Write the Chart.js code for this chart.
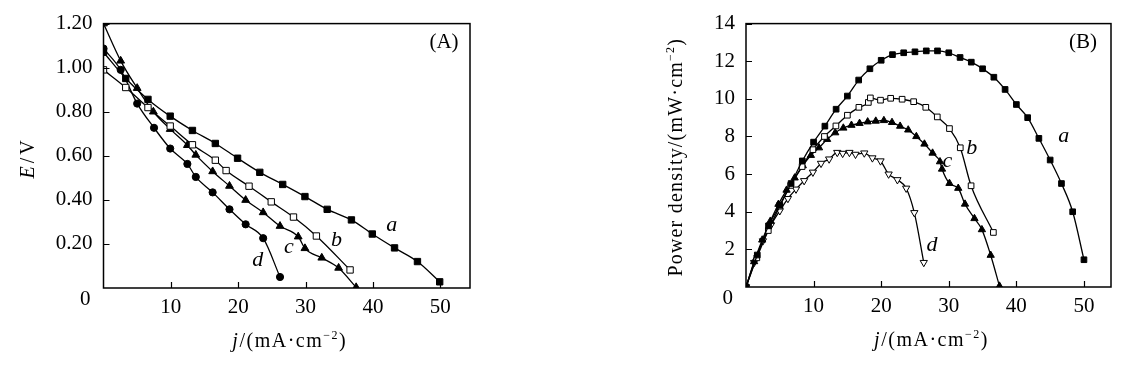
<!DOCTYPE html>
<html>
<head>
<meta charset="utf-8">
<script src="https://cdn.jsdelivr.net/npm/chart.js@4.4.1/dist/chart.umd.min.js"></script>
<style>
  html, body { margin: 0; padding: 0; background: #fff; }
  #wrap { position: relative; width: 1130px; height: 366px; overflow: hidden; }
  canvas { position: absolute; top: 0; }
  #chartA { left: 0; }
  #chartB { left: 600px; }
</style>
</head>
<body>
<div id="wrap">
  <canvas id="chartA" width="480" height="366"></canvas>
  <canvas id="chartB" width="530" height="366"></canvas>
</div>
<script>
'use strict';

// --- PANEL A: cell voltage E (V) vs current density j (mA/cm2) ---
const jA_a = [0, 3.3, 6.6, 9.9, 13.2, 16.6, 19.9, 23.2, 26.6, 29.9, 33.2, 36.8, 39.9, 43.2, 46.6, 49.9];
const EA_a = [1.07, 0.951, 0.856, 0.78, 0.715, 0.656, 0.589, 0.525, 0.47, 0.415, 0.357, 0.309, 0.245, 0.182, 0.12, 0.028];
const jA_b = [0, 3.3, 6.6, 9.9, 13.2, 16.6, 18.2, 21.6, 24.9, 28.2, 31.6, 36.6];
const EA_b = [0.99, 0.91, 0.819, 0.735, 0.65, 0.58, 0.533, 0.462, 0.391, 0.322, 0.236, 0.082];
const jA_c = [0, 2.55, 5.0, 7.4, 9.9, 12.45, 13.7, 16.2, 18.7, 21.1, 23.7, 26.2, 28.9, 29.9, 32.4, 34.9, 37.5];
const EA_c = [1.2, 1.031, 0.907, 0.8, 0.721, 0.648, 0.604, 0.529, 0.463, 0.399, 0.343, 0.281, 0.233, 0.18, 0.137, 0.091, 0.003];
const jA_d = [0, 2.55, 5.0, 7.5, 9.9, 12.45, 13.7, 16.2, 18.7, 21.1, 23.7, 26.2];
const EA_d = [1.087, 0.99, 0.837, 0.727, 0.633, 0.563, 0.504, 0.434, 0.357, 0.289, 0.226, 0.05];

// --- PANEL B: power density (mW/cm2) vs j ---
const jB_a = [0, 1.67, 3.33, 5.0, 6.67, 8.33, 10.0, 11.67, 13.33, 15.0, 16.67, 18.33, 20.0, 21.67, 23.33, 25.0,
              26.67, 28.33, 30.0, 31.67, 33.33, 35.0, 36.67, 38.33, 40.0, 41.67, 43.33, 45.0, 46.67, 48.33, 50.0];
const PB_a = [0, 1.7, 3.25, 4.35, 5.5, 6.7, 7.7, 8.55, 9.45, 10.15, 11.0, 11.6, 12.05, 12.35, 12.45, 12.5,
              12.55, 12.55, 12.45, 12.2, 11.95, 11.6, 11.15, 10.5, 9.7, 9.0, 7.9, 6.75, 5.5, 4.0, 1.45];
const jB_b = [0, 1.6, 3.3, 5.0, 6.6, 8.3, 9.9, 11.6, 13.3, 15.0, 16.7, 18.1, 18.4, 19.9, 21.4, 23.1, 24.8, 26.6, 28.3, 30.1, 31.7, 33.3, 36.6];
const PB_b = [0, 1.55, 3.0, 4.3, 5.4, 6.4, 7.3, 8.0, 8.56, 9.13, 9.55, 9.81, 10.05, 9.93, 10.03, 9.98, 9.85, 9.55, 9.04, 8.42, 7.4, 5.38, 2.9];
const jB_c = [0, 1.2, 2.4, 3.6, 4.8, 6.0, 7.2, 8.4, 9.6, 10.8, 12.0, 13.2, 14.4, 15.6, 16.8, 18.0, 19.2, 20.4, 21.6, 22.8,
              24.0, 25.2, 26.4, 27.6, 28.7, 29.0, 30.1, 31.4, 32.4, 33.8, 34.9, 36.2, 37.5];
const PB_c = [0, 1.35, 2.5, 3.5, 4.4, 5.15, 5.8, 6.45, 7.0, 7.4, 7.85, 8.2, 8.45, 8.6, 8.7, 8.78, 8.82, 8.85, 8.75, 8.55,
              8.35, 8.0, 7.6, 7.12, 6.66, 6.27, 5.51, 5.25, 4.41, 3.64, 3.05, 1.69, 0.05];
const jB_d = [0, 1.2, 2.5, 3.7, 5.0, 6.2, 7.4, 8.6, 9.9, 11.1, 12.3, 13.5, 14.3, 15.3, 16.2, 17.5, 18.7, 19.9, 21.1, 22.4, 23.7, 24.9, 26.3];
const PB_d = [0, 1.3, 2.45, 3.3, 4.05, 4.7, 5.2, 5.65, 6.1, 6.57, 6.8, 7.15, 7.1, 7.15, 7.05, 7.12, 6.86, 6.7, 6.0, 5.7, 5.25, 3.95, 1.3];

// --- TICKS ---
const xTicks = [10, 20, 30, 40, 50];
const yTicksA = [0.2, 0.4, 0.6, 0.8, 1.0, 1.2];
const yTicksB = [2, 4, 6, 8, 10, 12, 14];

// --- CURVE LABELS (data coordinates) ---
const curveLabelsA = [
  { text: 'a', x: 42.8, y: 0.285 },
  { text: 'b', x: 34.6, y: 0.215 },
  { text: 'c', x: 27.5, y: 0.185 },
  { text: 'd', x: 22.9, y: 0.128 }
];
const curveLabelsB = [
  { text: 'a', x: 47.0, y: 8.0 },
  { text: 'b', x: 33.4, y: 7.4 },
  { text: 'c', x: 29.8, y: 6.7 },
  { text: 'd', x: 27.5, y: 2.2 }
];

const SERIF = '"Liberation Serif", "Times New Roman", serif';
Chart.defaults.font.family = SERIF;
Chart.defaults.color = '#000';

function pts(xs, ys) {
  return xs.map((x, i) => ({ x: x, y: ys[i] }));
}

function series(xs, ys, style, hollow, radius, rotation) {
  return {
    data: pts(xs, ys),
    borderColor: '#000',
    borderWidth: 1.3,
    cubicInterpolationMode: 'monotone',
    showLine: true,
    pointStyle: style,
    pointRadius: radius,
    pointRotation: rotation || 0,
    pointBorderWidth: 1,
    pointBorderColor: '#000',
    pointBackgroundColor: hollow ? '#fff' : '#000'
  };
}

// draw a run of mixed-style text centred on (cx, cy)
function drawRich(ctx, runs, cx, cy, angle, size, spacing) {
  const fontOf = r => (r.italic ? 'italic ' : '') + (r.sup ? Math.round(size * 0.62) : size) + 'px ' + SERIF;
  ctx.save();
  ctx.translate(cx, cy);
  ctx.rotate(angle);
  ctx.letterSpacing = spacing + 'px';
  ctx.textAlign = 'left';
  ctx.textBaseline = 'alphabetic';
  ctx.fillStyle = '#000';
  let total = 0;
  runs.forEach(r => { ctx.font = fontOf(r); total += ctx.measureText(r.text).width; });
  let x = -total / 2;
  runs.forEach(r => {
    ctx.font = fontOf(r);
    ctx.fillText(r.text, x, r.sup ? size * 0.35 - size * 0.42 : size * 0.35);
    x += ctx.measureText(r.text).width;
  });
  ctx.restore();
}

const decorPlugin = {
  id: 'decor',
  afterDatasetsDraw(chart, args, o) {
    const { ctx, chartArea: a, scales: { x, y } } = chart;
    ctx.save();
    // frame
    ctx.strokeStyle = '#000';
    ctx.lineWidth = 1.5;
    ctx.strokeRect(a.left, a.top, a.right - a.left, a.bottom - a.top);
    // inward tick marks
    ctx.lineWidth = 1.2;
    ctx.beginPath();
    xTicks.forEach(v => {
      const px = Math.round(x.getPixelForValue(v)) + 0.5;
      ctx.moveTo(px, a.bottom); ctx.lineTo(px, a.bottom - 6);
    });
    o.yTicks.forEach(v => {
      const py = Math.round(y.getPixelForValue(v)) + 0.5;
      ctx.moveTo(a.left, py); ctx.lineTo(a.left + 6, py);
    });
    ctx.stroke();
    // shared origin label
    ctx.font = '21px ' + SERIF;
    ctx.fillStyle = '#000';
    ctx.textAlign = 'right';
    ctx.textBaseline = 'middle';
    ctx.fillText('0', a.left - 13, a.bottom + 11);
    // panel tag
    ctx.textAlign = 'center';
    ctx.fillText(o.tag, a.right - o.tagDx, a.top + 19);
    // curve labels
    ctx.font = 'italic 22px ' + SERIF;
    o.curveLabels.forEach(l => {
      ctx.fillText(l.text, x.getPixelForValue(l.x), y.getPixelForValue(l.y));
    });
    ctx.restore();
    // axis titles
    drawRich(ctx, [{ text: 'j', italic: true }, { text: '/(mA·cm' }, { text: '−2', sup: true }, { text: ')' }],
      (a.left + a.right) / 2 + 3, a.bottom + 52, 0, 20, 1.5);
    drawRich(ctx, o.yTitle, o.yTitleX, (a.top + a.bottom) / 2 + 2, -Math.PI / 2, 20, o.yTitleSpacing);
  }
};

function makeChart(id, datasets, cfg) {
  return new Chart(document.getElementById(id), {
    type: 'scatter',
    data: { datasets: datasets },
    options: {
      responsive: false,
      devicePixelRatio: 1,
      animation: false,
      events: [],
      layout: { padding: { left: 0, top: cfg.top, right: cfg.right, bottom: 0 } },
      plugins: {
        legend: { display: false },
        tooltip: { enabled: false },
        decor: {
          yTicks: cfg.yTicks, tag: cfg.tag, tagDx: cfg.tagDx, curveLabels: cfg.curveLabels,
          yTitle: cfg.yTitle, yTitleX: cfg.yTitleX, yTitleSpacing: cfg.yTitleSpacing
        }
      },
      scales: {
        x: {
          type: 'linear', min: 0, max: cfg.xMax,
          grid: { display: false, drawTicks: false },
          border: { display: false },
          afterBuildTicks: s => { s.ticks = xTicks.map(v => ({ value: v })); },
          afterFit: s => { s.height = cfg.xAxisH; },
          ticks: { font: { size: 21 }, padding: 7, maxRotation: 0, callback: v => String(v) }
        },
        y: {
          type: 'linear', min: 0, max: cfg.yMax,
          grid: { display: false, drawTicks: false },
          border: { display: false },
          afterBuildTicks: s => { s.ticks = cfg.yTicks.map(v => ({ value: v })); },
          afterFit: s => { s.width = cfg.yAxisW; },
          ticks: { font: { size: 21 }, padding: 11, callback: cfg.yFmt }
        }
      }
    },
    plugins: [decorPlugin]
  });
}

makeChart('chartA', [
  series(jA_a, EA_a, 'rect', false, 4.5),
  series(jA_b, EA_b, 'rect', true, 4.5),
  series(jA_c, EA_c, 'triangle', false, 4.5),
  series(jA_d, EA_d, 'circle', false, 3.6)
], {
  top: 14, right: 10, xMax: 54.4, yMax: 1.2, xAxisH: 78, yAxisW: 103.5,
  yTicks: yTicksA, yFmt: v => v.toFixed(2), tag: '(A)', tagDx: 26,
  curveLabels: curveLabelsA,
  yTitle: [{ text: 'E', italic: true }, { text: '/V' }], yTitleX: 27, yTitleSpacing: 3
});

makeChart('chartB', [
  series(jB_a, PB_a, 'rect', false, 4),
  series(jB_b, PB_b, 'rect', true, 4),
  series(jB_c, PB_c, 'triangle', false, 4.2),
  series(jB_d, PB_d, 'triangle', true, 4.2, 180)
], {
  top: 13, right: 19, xMax: 54, yMax: 14, xAxisH: 79, yAxisW: 146,
  yTicks: yTicksB, yFmt: v => String(v), tag: '(B)', tagDx: 28,
  curveLabels: curveLabelsB,
  yTitle: [{ text: 'Power density/(mW·cm' }, { text: '−2', sup: true }, { text: ')' }], yTitleX: 75, yTitleSpacing: 1.2
});
</script>
</body>
</html>
